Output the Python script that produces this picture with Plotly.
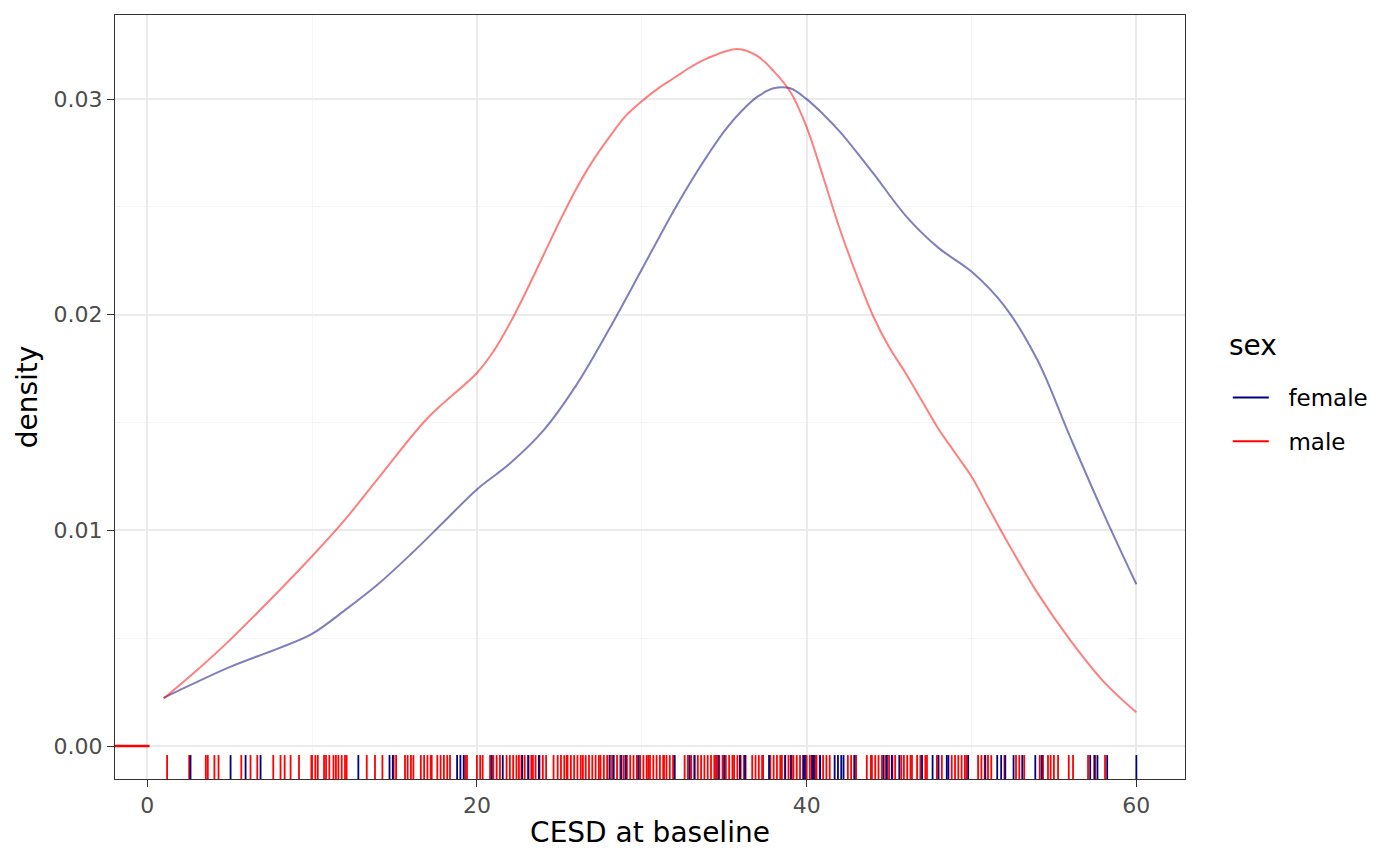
import plotly.graph_objects as go

# density curves (CESD at baseline by sex)
female_x = [1, 2, 5, 8, 10, 12, 14, 16, 18, 20, 22, 24, 26, 28, 30, 32, 33, 34, 35, 36, 37, 38, 39, 40, 41, 42,
            44, 46, 48, 50, 52, 54, 56, 58, 60]
female_y = [0.00223, 0.0026, 0.00366, 0.00454, 0.0052, 0.0063, 0.0075, 0.0089, 0.0104, 0.0119, 0.0131, 0.0146,
            0.0167, 0.0193, 0.0221, 0.0249, 0.0262, 0.0274, 0.0285, 0.0294, 0.0301, 0.0305, 0.0305, 0.0300,
            0.0293, 0.0285, 0.0266, 0.0246, 0.0231, 0.0220, 0.0204, 0.0179, 0.0143, 0.0108, 0.0075]

male_x = [1, 3, 5, 8, 10, 12, 14, 17, 20, 21, 22, 23, 24, 25, 26, 27, 28, 29, 30, 31, 32, 33, 34, 35.8, 37, 38,
          39, 40, 41, 42, 43, 44, 45, 46, 47, 48, 49, 50, 51, 52, 54, 56, 58, 60]
male_y = [0.0022, 0.0035, 0.0049, 0.0072, 0.0088, 0.0105, 0.0124, 0.0152, 0.0173, 0.0183, 0.0196, 0.0211,
          0.0227, 0.0243, 0.0258, 0.0271, 0.0282, 0.0292, 0.0299, 0.0305, 0.0310, 0.0315, 0.0319, 0.03232,
          0.0320, 0.0313, 0.03035, 0.0287, 0.0264, 0.0240, 0.0219, 0.0200, 0.0185, 0.0173, 0.0160, 0.0147,
          0.0136, 0.0125, 0.0111, 0.0097, 0.0071, 0.0049, 0.0030, 0.00156]

# rug positions (jittered observations)
female_rug = [2.63, 5.06, 5.97, 6.88, 12.81, 14.7, 14.9, 18.8, 19.0, 19.2, 20.9, 21.57, 22.75, 23.13, 23.76,
              28.05, 28.3, 28.76, 29.02, 29.8, 32.0, 32.9, 33.2, 34.65, 35.0, 35.95, 36.27, 37.72, 38.7,
              39.04, 39.8, 39.9, 40.35, 40.45, 40.82, 41.7, 41.9, 42.1, 42.24, 42.9, 44.67, 44.87, 45.17,
              45.62, 47.0, 47.64, 48.0, 48.5, 48.6, 49.8, 50.84, 51.56, 51.8, 52.05, 52.55, 53.08, 53.87,
              54.26, 57.2, 57.45, 57.64, 58.23, 60.0]
male_rug = [1.21, 2.55, 3.56, 3.68, 4.08, 4.33, 5.71, 6.27, 6.68, 7.65, 8.09, 8.34, 8.70, 9.21, 9.96, 10.0,
            10.2, 10.35, 10.73, 10.85, 11.05, 11.3, 11.45, 11.6, 11.8, 12.0, 12.1, 13.32, 13.82, 14.27, 14.95,
            15.1, 15.64, 15.8, 16.0, 16.15, 16.6, 16.8, 17.0, 17.2, 17.26, 17.6, 17.8, 18.0, 18.2, 18.37,
            19.3, 19.4, 20.0, 20.2, 20.35, 20.8, 21.0, 21.2, 21.4, 21.8, 22.0, 22.2, 22.4, 22.55, 22.7, 22.9,
            23.1, 23.3, 23.4, 23.56, 23.8, 24.0, 24.2, 24.65, 24.9, 25.1, 25.3, 25.45, 25.5, 25.7, 25.9, 26.1,
            26.3, 26.43, 26.6, 26.8, 27.0, 27.2, 27.4, 27.5, 27.7, 27.9, 28.05, 28.2, 28.5, 28.7, 28.9, 29.1,
            29.3, 29.5, 29.7, 29.9, 30.1, 30.3, 30.4, 30.5, 30.7, 30.9, 31.1, 31.3, 31.35, 31.5, 31.7, 31.9,
            32.6, 32.8, 33.0, 33.2, 33.4, 33.6, 33.8, 34.0, 34.2, 34.4, 34.5, 34.55, 34.7, 34.9, 35.1, 35.3,
            35.5, 35.6, 35.8, 36.0, 36.2, 36.3, 36.7, 36.9, 37.1, 37.3, 37.36, 37.8, 38.0, 38.2, 38.4, 38.5,
            38.7, 38.9, 39.1, 39.2, 39.4, 39.6, 39.8, 40.0, 40.2, 40.4, 40.56, 40.32, 40.6, 40.8, 41.0, 41.2,
            41.4, 42.5, 42.7, 42.9, 43.0, 43.65, 43.9, 43.96, 44.16, 44.36, 44.57, 44.8, 45.0, 45.2, 45.37,
            45.74, 45.9, 46.1, 46.3, 46.39, 46.7, 46.9, 47.2, 47.3, 47.9, 48.2, 48.8, 49.0, 49.2, 49.4, 49.6,
            49.7, 50.4, 50.6, 50.8, 51.0, 51.2, 52.0, 52.7, 52.9, 53.2, 54.14, 54.34, 54.64, 54.8, 55.0, 55.25,
            55.9, 56.16, 57.07, 57.5, 58.1]
y_rug = [0.0]

NAVY = "#000080"
RED = "#FF0000"

fig = go.Figure()

fig.add_trace(go.Scatter(x=female_x, y=female_y, mode="lines", line=dict(color="rgba(0,0,128,0.5)", width=2,
                         shape="spline", smoothing=1.0), showlegend=False, hoverinfo="skip"))
fig.add_trace(go.Scatter(x=male_x, y=male_y, mode="lines", line=dict(color="rgba(255,0,0,0.5)", width=2,
                         shape="spline", smoothing=1.0), showlegend=False, hoverinfo="skip"))

# bottom rug, on a hidden 0..1 axis so ticks sit on the panel edge
fig.add_trace(go.Scatter(x=male_rug, y=[0.013] * len(male_rug), yaxis="y2", mode="markers",
                         marker=dict(symbol="line-ns-open", size=20, color=RED, line=dict(color=RED, width=1.8)),
                         showlegend=False, hoverinfo="skip"))
fig.add_trace(go.Scatter(x=female_rug, y=[0.013] * len(female_rug), yaxis="y2", mode="markers",
                         marker=dict(symbol="line-ns-open", size=20, color=NAVY, line=dict(color=NAVY, width=1.8)),
                         showlegend=False, hoverinfo="skip"))

# left rug at y = 0
fig.add_trace(go.Scatter(x=[0.014], y=y_rug, xaxis="x2", mode="markers",
                         marker=dict(symbol="line-ew-open", size=28, color=RED, line=dict(color=RED, width=2.5)),
                         showlegend=False, hoverinfo="skip"))

# legend keys
fig.add_trace(go.Scatter(x=[None], y=[None], mode="lines", name="\u00a0\u00a0female", legendgroup="f",
                         line=dict(color=NAVY, width=2)))
fig.add_trace(go.Scatter(x=[None], y=[None], mode="lines", name="\u00a0\u00a0male", legendgroup="m",
                         line=dict(color=RED, width=2)))

axis_common = dict(showline=True, linecolor="#333333", linewidth=1, mirror=True, ticks="outside",
                   ticklen=7, tickcolor="#333333", gridcolor="#EBEBEB", gridwidth=1.5, zeroline=False,
                   tickfont=dict(size=22, color="#4D4D4D"))

fig.update_layout(
    width=1400, height=865,
    # page body adds 8px on top/left, so margins are shifted to compensate
    margin=dict(l=107, r=223, t=7, b=94),
    paper_bgcolor="white", plot_bgcolor="white",
    font=dict(family="DejaVu Sans", color="black"),
    xaxis=dict(range=[-1.95, 62.95], tickvals=[0, 20, 40, 60],
               minor=dict(tickvals=[10, 30, 50], showgrid=True, gridcolor="#F5F5F5", gridwidth=1, ticks=""),
               title=dict(text="CESD at baseline", font=dict(size=28), standoff=4), **axis_common),
    yaxis=dict(range=[-0.00153, 0.0339], tickvals=[0, 0.01, 0.02, 0.03], tickformat=".2f",
               minor=dict(tickvals=[0.005, 0.015, 0.025], showgrid=True, gridcolor="#F5F5F5", gridwidth=1, ticks=""),
               title=dict(text="density", font=dict(size=28), standoff=7), **axis_common),
    xaxis2=dict(overlaying="x", range=[0, 1], visible=False),
    yaxis2=dict(overlaying="y", range=[0, 1], visible=False),
    legend=dict(x=1.04, y=0.5275, xanchor="left", yanchor="top", bgcolor="rgba(0,0,0,0)",
                font=dict(size=23), tracegroupgap=11, itemwidth=36),
    annotations=[dict(text="sex", x=1.039, y=0.568, xref="paper", yref="paper", xanchor="left",
                      yanchor="middle", showarrow=False, font=dict(size=28))],
)

fig.write_html("out.html")
